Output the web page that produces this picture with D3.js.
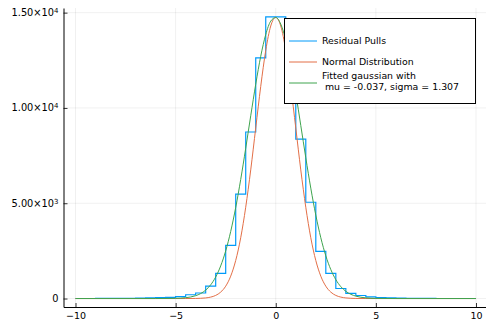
<!DOCTYPE html>
<html><head><meta charset="utf-8">
<script src="https://cdn.jsdelivr.net/npm/d3@7"></script>
<style>html,body{margin:0;padding:0;background:#fff;} svg{display:block;font-family:"DejaVu Sans",sans-serif;}</style>
</head><body><svg id="c" width="486" height="321"></svg>
<script>
// ---- data ----
const binEdges = [-10,-9.5,-9,-8.5,-8,-7.5,-7,-6.5,-6,-5.5,-5,-4.5,-4,-3.5,-3,-2.5,-2,-1.5,-1,-0.5,0,
                  0.5,1,1.5,2,2.5,3,3.5,4,4.5,5,5.5,6,6.5,7,7.5,8,8.5,9,9.5,10];
const histCounts = [2,3,4,5,8,12,18,30,45,65,100,200,290,650,1316,2790,5474,8737,12630,14780,
                    14780,12300,8368,5052,2474,1316,526,270,160,85,50,30,18,10,6,4,3,2,1,1];
const curveX = [-10,-6,-5,-4.5,-4,-3.75,-3.5,-3.25,-3,-2.75,-2.5,-2.25,-2,-1.75,-1.5,-1.25,-1,-0.75,-0.5,-0.25,0,
                0.25,0.5,0.75,1,1.25,1.5,1.75,2,2.25,2.5,2.75,3,3.25,3.5,3.75,4,4.5,5,6,10];
const normalY = [0,0,0,1,5,13,32,75,164,336,648,1174,1996,3190,4790,6750,8950,11130,13020,14300,14750,
                 14300,13020,11130,8950,6750,4790,3190,1996,1174,648,336,164,75,32,13,5,1,0,0,0];
const fitY = [0,0,11,43,149,261,441,719,1129,1711,2499,3518,4774,6248,7884,9589,11244,12710,13853,14555,14744,
              14399,13557,12304,10767,9083,7387,5792,4378,3190,2242,1518,992,624,379,222,125,36,9,0,0];
const xTicks = [-10,-5,0,5,10];
const xTickLabels = ["\u221210","\u22125","0","5","10"];
const yTicks = [0,5000,10000,15000];
const yTickMantissa = ["0","5.00\u00d710","1.00\u00d710","1.50\u00d710"];
const yTickExponent = ["","3","4","4"];
const seriesNames = [["Residual Pulls"],["Normal Distribution"],["Fitted gaussian with"," mu = -0.037, sigma = 1.307"]];
const seriesColors = ["#009AFA","#E36F47","#3EA44E"];

// ---- layout ----
const svg = d3.select("#c");
const x = d3.scaleLinear().domain([-10.6,10.6]).range([63.5,488]);
const y = d3.scaleLinear().domain([-444,15244]).range([307,8]);
const [x0,x1] = x.range(), [yb,yt] = y.range();

// grid
svg.append("g").selectAll("line").data(xTicks).join("line")
  .attr("x1",d=>x(d)).attr("x2",d=>x(d)).attr("y1",yt).attr("y2",yb)
  .attr("stroke","#000").attr("stroke-opacity",0.1).attr("stroke-width",0.6);
svg.append("g").selectAll("line").data(yTicks).join("line")
  .attr("y1",d=>y(d)).attr("y2",d=>y(d)).attr("x1",x0).attr("x2",x1)
  .attr("stroke","#000").attr("stroke-opacity",0.1).attr("stroke-width",0.6);

// axes
const gx = svg.append("g").attr("transform",`translate(0,${yb})`)
  .call(d3.axisBottom(x).tickValues(xTicks).tickFormat((d,i)=>xTickLabels[i]).tickSizeInner(-4).tickSizeOuter(0).tickPadding(5.5));
const gy = svg.append("g").attr("transform",`translate(${x0},0)`)
  .call(d3.axisLeft(y).tickValues(yTicks).tickFormat("").tickSizeInner(-4).tickSizeOuter(0));
[gx,gy].forEach(g=>{
  g.select(".domain").attr("stroke","#000").attr("stroke-width",1);
  g.selectAll(".tick line").attr("stroke","#000").attr("stroke-width",0.8);
});
gx.selectAll(".tick text").attr("font-size",9.5).attr("fill","#000").attr("font-family","DejaVu Sans");

// y labels with superscripts
const yl = svg.append("g").selectAll("text").data(yTicks).join("text")
  .attr("x",x0-5).attr("y",d=>y(d)).attr("dy","0.35em").attr("text-anchor","end")
  .attr("font-size",9.8).attr("fill","#000");
yl.each(function(d,i){
  const t = d3.select(this);
  t.append("tspan").text(yTickMantissa[i]);
  if (yTickExponent[i]) t.append("tspan").attr("dy","-0.45em").attr("font-size",7).text(yTickExponent[i]);
});

// clip
svg.append("clipPath").attr("id","clip").append("rect")
  .attr("x",x0).attr("y",yt).attr("width",x1-x0).attr("height",yb-yt);
const plot = svg.append("g").attr("clip-path","url(#clip)");

// histogram steps
const stepPts = histCounts.map((c,i)=>[binEdges[i],c]).concat([[binEdges[binEdges.length-1],histCounts[histCounts.length-1]]]);
plot.append("path").datum(stepPts)
  .attr("d",d3.line().x(d=>x(d[0])).y(d=>y(d[1])).curve(d3.curveStepAfter))
  .attr("fill","none").attr("stroke",seriesColors[0]).attr("stroke-width",1.2);

const lineGen = d3.line().x(d=>x(d[0])).y(d=>y(d[1])).curve(d3.curveMonotoneX);
plot.append("path").datum(curveX.map((v,i)=>[v,normalY[i]]))
  .attr("d",lineGen).attr("fill","none").attr("stroke",seriesColors[1]).attr("stroke-width",1);
plot.append("path").datum(curveX.map((v,i)=>[v,fitY[i]]))
  .attr("d",lineGen).attr("fill","none").attr("stroke",seriesColors[2]).attr("stroke-width",1);

// legend
const lg = svg.append("g");
lg.append("rect").attr("x",284.5).attr("y",18.5).attr("width",191).attr("height",85)
  .attr("fill","#fff").attr("stroke","#000").attr("stroke-width",1);
const rowY = [41,62,83];
seriesNames.forEach((lines,i)=>{
  lg.append("line").attr("x1",289).attr("x2",317).attr("y1",rowY[i]).attr("y2",rowY[i])
    .attr("stroke",seriesColors[i]).attr("stroke-width",1);
  const n = lines.length;
  lines.forEach((s,j)=>{
    lg.append("text").attr("x",322).attr("y",rowY[i] + (j-(n-1)/2)*11 - (n>1?2:0)).attr("dy","0.35em")
      .attr("font-size",9.4).attr("fill","#000").attr("xml:space","preserve").style("white-space","pre").text(s);
  });
});
</script></body></html>
